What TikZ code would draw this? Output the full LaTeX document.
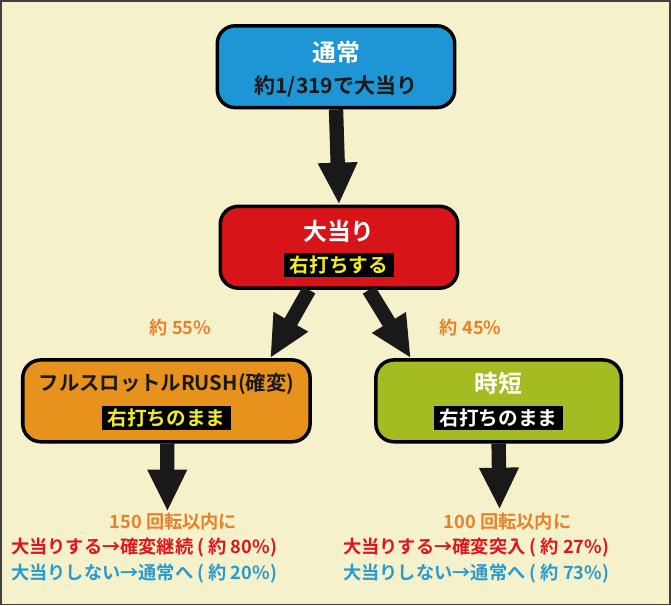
\documentclass[tikz,border=0pt]{standalone}
\usepackage{fontspec}
\setmainfont{Noto Sans CJK JP}[BoldFont={Noto Sans CJK JP Bold}]
\usetikzlibrary{arrows.meta,positioning}
\definecolor{BG}{HTML}{F5F2CB}
\definecolor{B0}{HTML}{1E96D6}
\definecolor{B1}{HTML}{D71518}
\definecolor{B2}{HTML}{E8921E}
\definecolor{B3}{HTML}{A4BC22}
\definecolor{T0}{HTML}{E8822A}
\definecolor{T1}{HTML}{E1141E}
\definecolor{T2}{HTML}{2A9BD0}
\definecolor{Y0}{HTML}{F4EB24}
\tikzset{
  box/.style={draw, line width=2.5pt, rounded corners=0.45cm, minimum height=2.05cm},
  title/.style={font=\bfseries\fontsize{17}{19}\selectfont},
  tag/.style={fill=black, inner xsep=4pt, inner ysep=2pt, font=\bfseries\fontsize{14}{16}\selectfont},
  bigarrow/.style={line width=0.36cm, -{Triangle[width=0.92cm,length=1.05cm]}, color=black!90},
  note/.style={font=\bfseries\fontsize{13}{15}\selectfont, inner sep=0pt},
}
\begin{document}
\begin{tikzpicture}[x=0.025cm, y=-0.025cm]
\draw[fill=BG, draw=black!75, line width=1.2pt] (0,0) rectangle (671,605);
%
\node[box, fill=B0, minimum width=5.95cm] (normal) at (336,66) {};
\node[title, text=white] (normalT) at (336,52) {通常};
\node[font=\bfseries\fontsize{15}{17}\selectfont, text=black!90] (normalS) at (336,86) {約1/319で大当り};
%
\node[box, fill=B1, minimum width=5.95cm] (hit) at (339,247) {};
\node[title, text=white] (hitT) at (339,231) {大当り};
\node[tag, text=Y0] (hitS) at (339,265) {右打ちする};
%
\node[box, fill=B2, minimum width=7.2cm] (rush) at (166,401) {};
\node[font=\bfseries\fontsize{14.5}{16}\selectfont, text=black!90] (rushT) at (166,384) {フルスロットルRUSH(確変)};
\node[tag, text=Y0] (rushS) at (166,418) {右打ちのまま};
%
\node[box, fill=B3, minimum width=6.15cm] (jitan) at (499,401) {};
\node[title, text=white] (jitanT) at (499,384) {時短};
\node[tag, text=white] (jitanS) at (499,418) {右打ちのまま};
%
\node[note, text=T0] (pL) at (180,328) {約 55\%};
\node[note, text=T0] (pR) at (471,328) {約 45\%};
%
\coordinate (endL) at (167,512);
\coordinate (endR) at (500,510);
\draw[bigarrow] (normal.south) -- (hit.north);
\draw[bigarrow] ([xshift=-0.75cm]hit.south) -- ([xshift=2.6cm]rush.north);
\draw[bigarrow] ([xshift=0.75cm]hit.south) -- ([xshift=-2.2cm]jitan.north);
\draw[bigarrow] ([xshift=0.02cm]rush.south) -- (endL);
\draw[bigarrow] (jitan.south) -- (endR);
%
\node[note, text=T0] (nL0) at (173,522) {150 回転以内に};
\node[note, text=T1, anchor=west] (nL1) at (10,548) {大当りする→確変継続 ( 約 80\%)};
\node[note, text=T2, anchor=west] (nL2) at (10,574) {大当りしない→通常へ ( 約 20\%)};
\node[note, text=T0] (nR0) at (508,522) {100 回転以内に};
\node[note, text=T1, anchor=west] (nR1) at (343,548) {大当りする→確変突入 ( 約 27\%)};
\node[note, text=T2, anchor=west] (nR2) at (343,574) {大当りしない→通常へ ( 約 73\%)};
\end{tikzpicture}
\end{document}
